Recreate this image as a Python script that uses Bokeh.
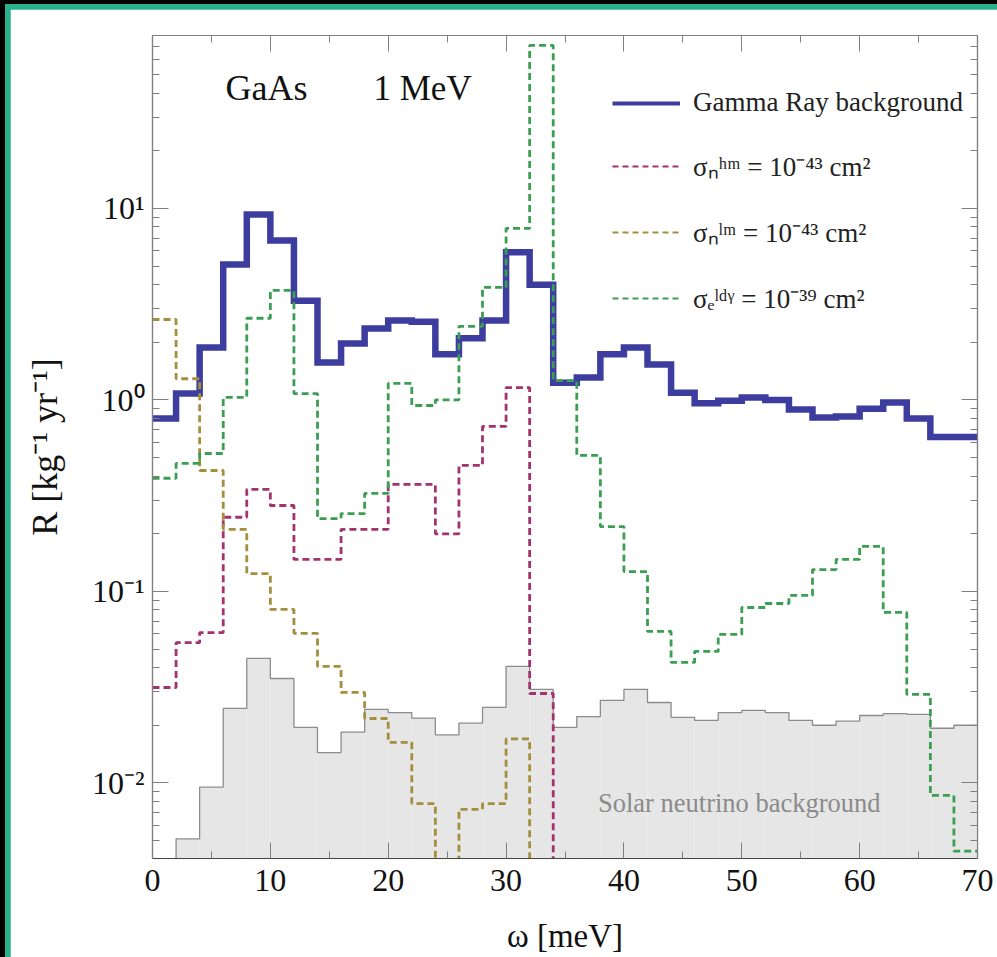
from bokeh.plotting import figure
from bokeh.models import (Range1d, FixedTicker, LinearAxis, LogAxis, Legend, LegendItem,
                          Label, CustomJSTickFormatter)
from bokeh.layouts import column
from bokeh.embed import file_html
from bokeh.resources import INLINE

# ---------------- data (bin edges in meV, rates in kg^-1 yr^-1) ----------------
omega_edges = [0, 2, 4, 6, 8, 10, 12, 14, 16, 18, 20, 22, 24, 26, 28, 30, 32, 34,
               36, 38, 40, 42, 44, 46, 48, 50, 52, 54, 56, 58, 60, 62, 64, 66, 68, 70]

gamma_bkg = [0.80, 1.08, 1.88, 5.1, 9.3, 6.8, 3.3, 1.57, 1.97, 2.36, 2.6, 2.56,
             1.73, 2.1, 2.6, 5.9, 4.0, 1.23, 1.31, 1.73, 1.88, 1.53, 1.09, 0.96,
             0.99, 1.03, 1.0, 0.89, 0.81, 0.82, 0.90, 0.97, 0.80, 0.64, 0.64]

sigma_n_hm = [0.0315, 0.054, 0.061, 0.244, 0.341, 0.281, 0.147, 0.147, 0.211, 0.211,
              0.362, 0.362, 0.20, 0.455, 0.727, 1.16, 0.0293, 0, 0, 0, 0, 0, 0, 0,
              0, 0, 0, 0, 0, 0, 0, 0, 0, 0, 0]

sigma_n_lm = [2.63, 1.29, 0.428, 0.211, 0.124, 0.0805, 0.0604, 0.0406, 0.0297, 0.0217,
              0.0163, 0.0078, 0, 0.00728, 0.0078, 0.017, 0, 0, 0, 0, 0, 0, 0, 0,
              0, 0, 0, 0, 0, 0, 0, 0, 0, 0, 0]

sigma_e_ldg = [0.39, 0.466, 0.525, 1.03, 2.67, 3.73, 1.08, 0.24, 0.255, 0.325, 1.22,
               0.935, 1.0, 2.42, 3.87, 7.87, 71.0, 1.26, 0.513, 0.218, 0.127, 0.0618,
               0.0426, 0.0486, 0.0596, 0.0824, 0.0865, 0.0953, 0.130, 0.147, 0.172,
               0.0777, 0.029, 0.0086, 0.0044]

solar_nu = [0, 0.0051, 0.0095, 0.0245, 0.0447, 0.0351, 0.0195, 0.0144, 0.0184, 0.0242,
            0.0233, 0.0218, 0.0178, 0.0205, 0.0248, 0.0406, 0.0308, 0.0195, 0.0222,
            0.027, 0.0308, 0.0263, 0.022, 0.0212, 0.0233, 0.0239, 0.0233, 0.0212,
            0.0200, 0.021, 0.0225, 0.023, 0.0228, 0.0193, 0.020]

x_major = [0, 10, 20, 30, 40, 50, 60, 70]
x_minor = [5, 15, 25, 35, 45, 55, 65]
y_major = [0.01, 0.1, 1, 10]
y_minor = [m * d for d in [0.001, 0.01, 0.1, 1, 10] for m in range(2, 10)]

FLOOR = 1e-6  # stands in for "zero" on the log axis (below the plotted range)


def step_xy(edges, vals):
    xs, ys = [], []
    for i, v in enumerate(vals):
        v = max(v, FLOOR)
        xs += [edges[i], edges[i + 1]]
        ys += [v, v]
    return xs, ys


SERIF = "Liberation Serif"
BLUE = "#3c3d9e"
MAGENTA = "#a2336e"
OLIVE = "#a38f3e"
GREEN = "#3b9e52"
AXIS = "#808080"

p = figure(width=987, height=948, x_range=Range1d(0, 70), y_range=Range1d(0.00403, 80),
           y_axis_type="log", output_backend="svg", toolbar_location=None,
           min_border_left=142, min_border_right=20, min_border_top=26, min_border_bottom=99,
           background_fill_color="white", border_fill_color="white")
p.grid.visible = False
p.outline_line_color = AXIS
p.outline_line_width = 1.2

# solar neutrino filled histogram
p.quad(left=omega_edges[:-1], right=omega_edges[1:], bottom=FLOOR,
       top=[max(v, FLOOR) for v in solar_nu], fill_color="#e6e6e6", line_color=None)
sx, sy = step_xy(omega_edges, solar_nu)
p.line(sx, sy, line_color="#8c8c8c", line_width=1.3)

gx, gy = step_xy(omega_edges, gamma_bkg)
p.line(gx, gy, line_color=BLUE, line_width=6.5, line_join="miter")
mx, my = step_xy(omega_edges, sigma_n_hm)
p.line(mx, my, line_color=MAGENTA, line_width=2.8, line_dash="7 4")
ox, oy = step_xy(omega_edges, sigma_n_lm)
p.line(ox, oy, line_color=OLIVE, line_width=2.8, line_dash="7 4")
ex, ey = step_xy(omega_edges, sigma_e_ldg)
p.line(ex, ey, line_color=GREEN, line_width=2.8, line_dash="7 4")

# legend-only renderers (thinner strokes as in the reference legend), outside the x range
r1 = p.line(x=[-10, -9], y=[1, 1], line_color=BLUE, line_width=4)
r2 = p.line(x=[-10, -9], y=[1, 1], line_color=MAGENTA, line_width=2, line_dash="6 4")
r3 = p.line(x=[-10, -9], y=[1, 1], line_color=OLIVE, line_width=2, line_dash="6 4")
r4 = p.line(x=[-10, -9], y=[1, 1], line_color=GREEN, line_width=2, line_dash="6 4")
legend = Legend(items=[
    LegendItem(label="Gamma Ray background", renderers=[r1]),
    LegendItem(label="σₙʰᵐ = 10⁻⁴³ cm²", renderers=[r2]),
    LegendItem(label="σₙˡᵐ = 10⁻⁴³ cm²", renderers=[r3]),
    LegendItem(label="σₑˡᵈᵞ = 10⁻³⁹ cm²", renderers=[r4]),
], location=(460, 542), label_text_font=SERIF, label_text_font_size="27px",
    label_text_color="#222222", border_line_color=None, background_fill_alpha=0,
    glyph_width=68, glyph_height=30, label_height=30, spacing=29, padding=0, margin=0,
    label_standoff=13)
p.add_layout(legend)

# axes
xt = FixedTicker(ticks=x_major, minor_ticks=x_minor)
yt = FixedTicker(ticks=y_major, minor_ticks=y_minor)
yfmt = CustomJSTickFormatter(code="""
const e = Math.round(Math.log10(tick));
const sup = {"-": "\\u207b", "0": "\\u2070", "1": "\\u00b9", "2": "\\u00b2", "3": "\\u00b3"};
return "10" + String(e).split("").map(c => sup[c]).join("");
""")
blank = CustomJSTickFormatter(code='return ""')


def style_axis(ax, labels=True):
    ax.axis_line_color = AXIS
    ax.axis_line_width = 1.2
    ax.major_tick_line_color = AXIS
    ax.minor_tick_line_color = AXIS
    ax.major_tick_in = 16
    ax.major_tick_out = 0
    ax.minor_tick_in = 7
    ax.minor_tick_out = 0
    if labels:
        ax.major_label_text_font = SERIF
        ax.major_label_text_font_size = "32px"
        ax.major_label_text_color = "#111111"
        ax.axis_label_text_font = SERIF
        ax.axis_label_text_font_size = "33px"
        ax.axis_label_text_font_style = "normal"
        ax.axis_label_text_color = "#111111"
    else:
        ax.formatter = blank
        ax.major_label_text_font_size = "2px"
        ax.major_label_standoff = 0


xa = p.xaxis[0]
xa.ticker = xt
xa.axis_label = "ω [meV]"
style_axis(xa)
xa.axis_line_color = "#444444"
xa.major_label_standoff = 11
xa.axis_label_standoff = 24

ya = p.yaxis[0]
ya.ticker = yt
ya.formatter = yfmt
ya.axis_label = "R [kg⁻¹ yr⁻¹]"
style_axis(ya)
ya.axis_label_text_font_size = "36px"
ya.major_label_standoff = 8
ya.axis_label_standoff = 24

top = LinearAxis(ticker=xt)
style_axis(top, labels=False)
p.add_layout(top, "above")
right = LogAxis(ticker=yt)
style_axis(right, labels=False)
p.add_layout(right, "right")

# text annotations
p.add_layout(Label(x=6.2, y=42.4, text="GaAs", text_font=SERIF, text_font_size="36px",
                   text_baseline="middle", text_color="#111111"))
p.add_layout(Label(x=18.75, y=42.4, text="1 MeV", text_font=SERIF, text_font_size="35px",
                   text_baseline="middle", text_color="#111111"))
p.add_layout(Label(x=37.8, y=0.0079, text="Solar neutrino background", text_font=SERIF,
                   text_font_size="26.5px", text_baseline="middle", text_color="#8a8a8a"))

inner = column(p, styles={"background-color": "#2bb08e", "padding-left": "5px", "padding-top": "5px"})
outer = column(inner, styles={"background-color": "black", "padding-left": "5px", "padding-top": "4px"})

open("out.html", "w").write(file_html(outer, INLINE))
